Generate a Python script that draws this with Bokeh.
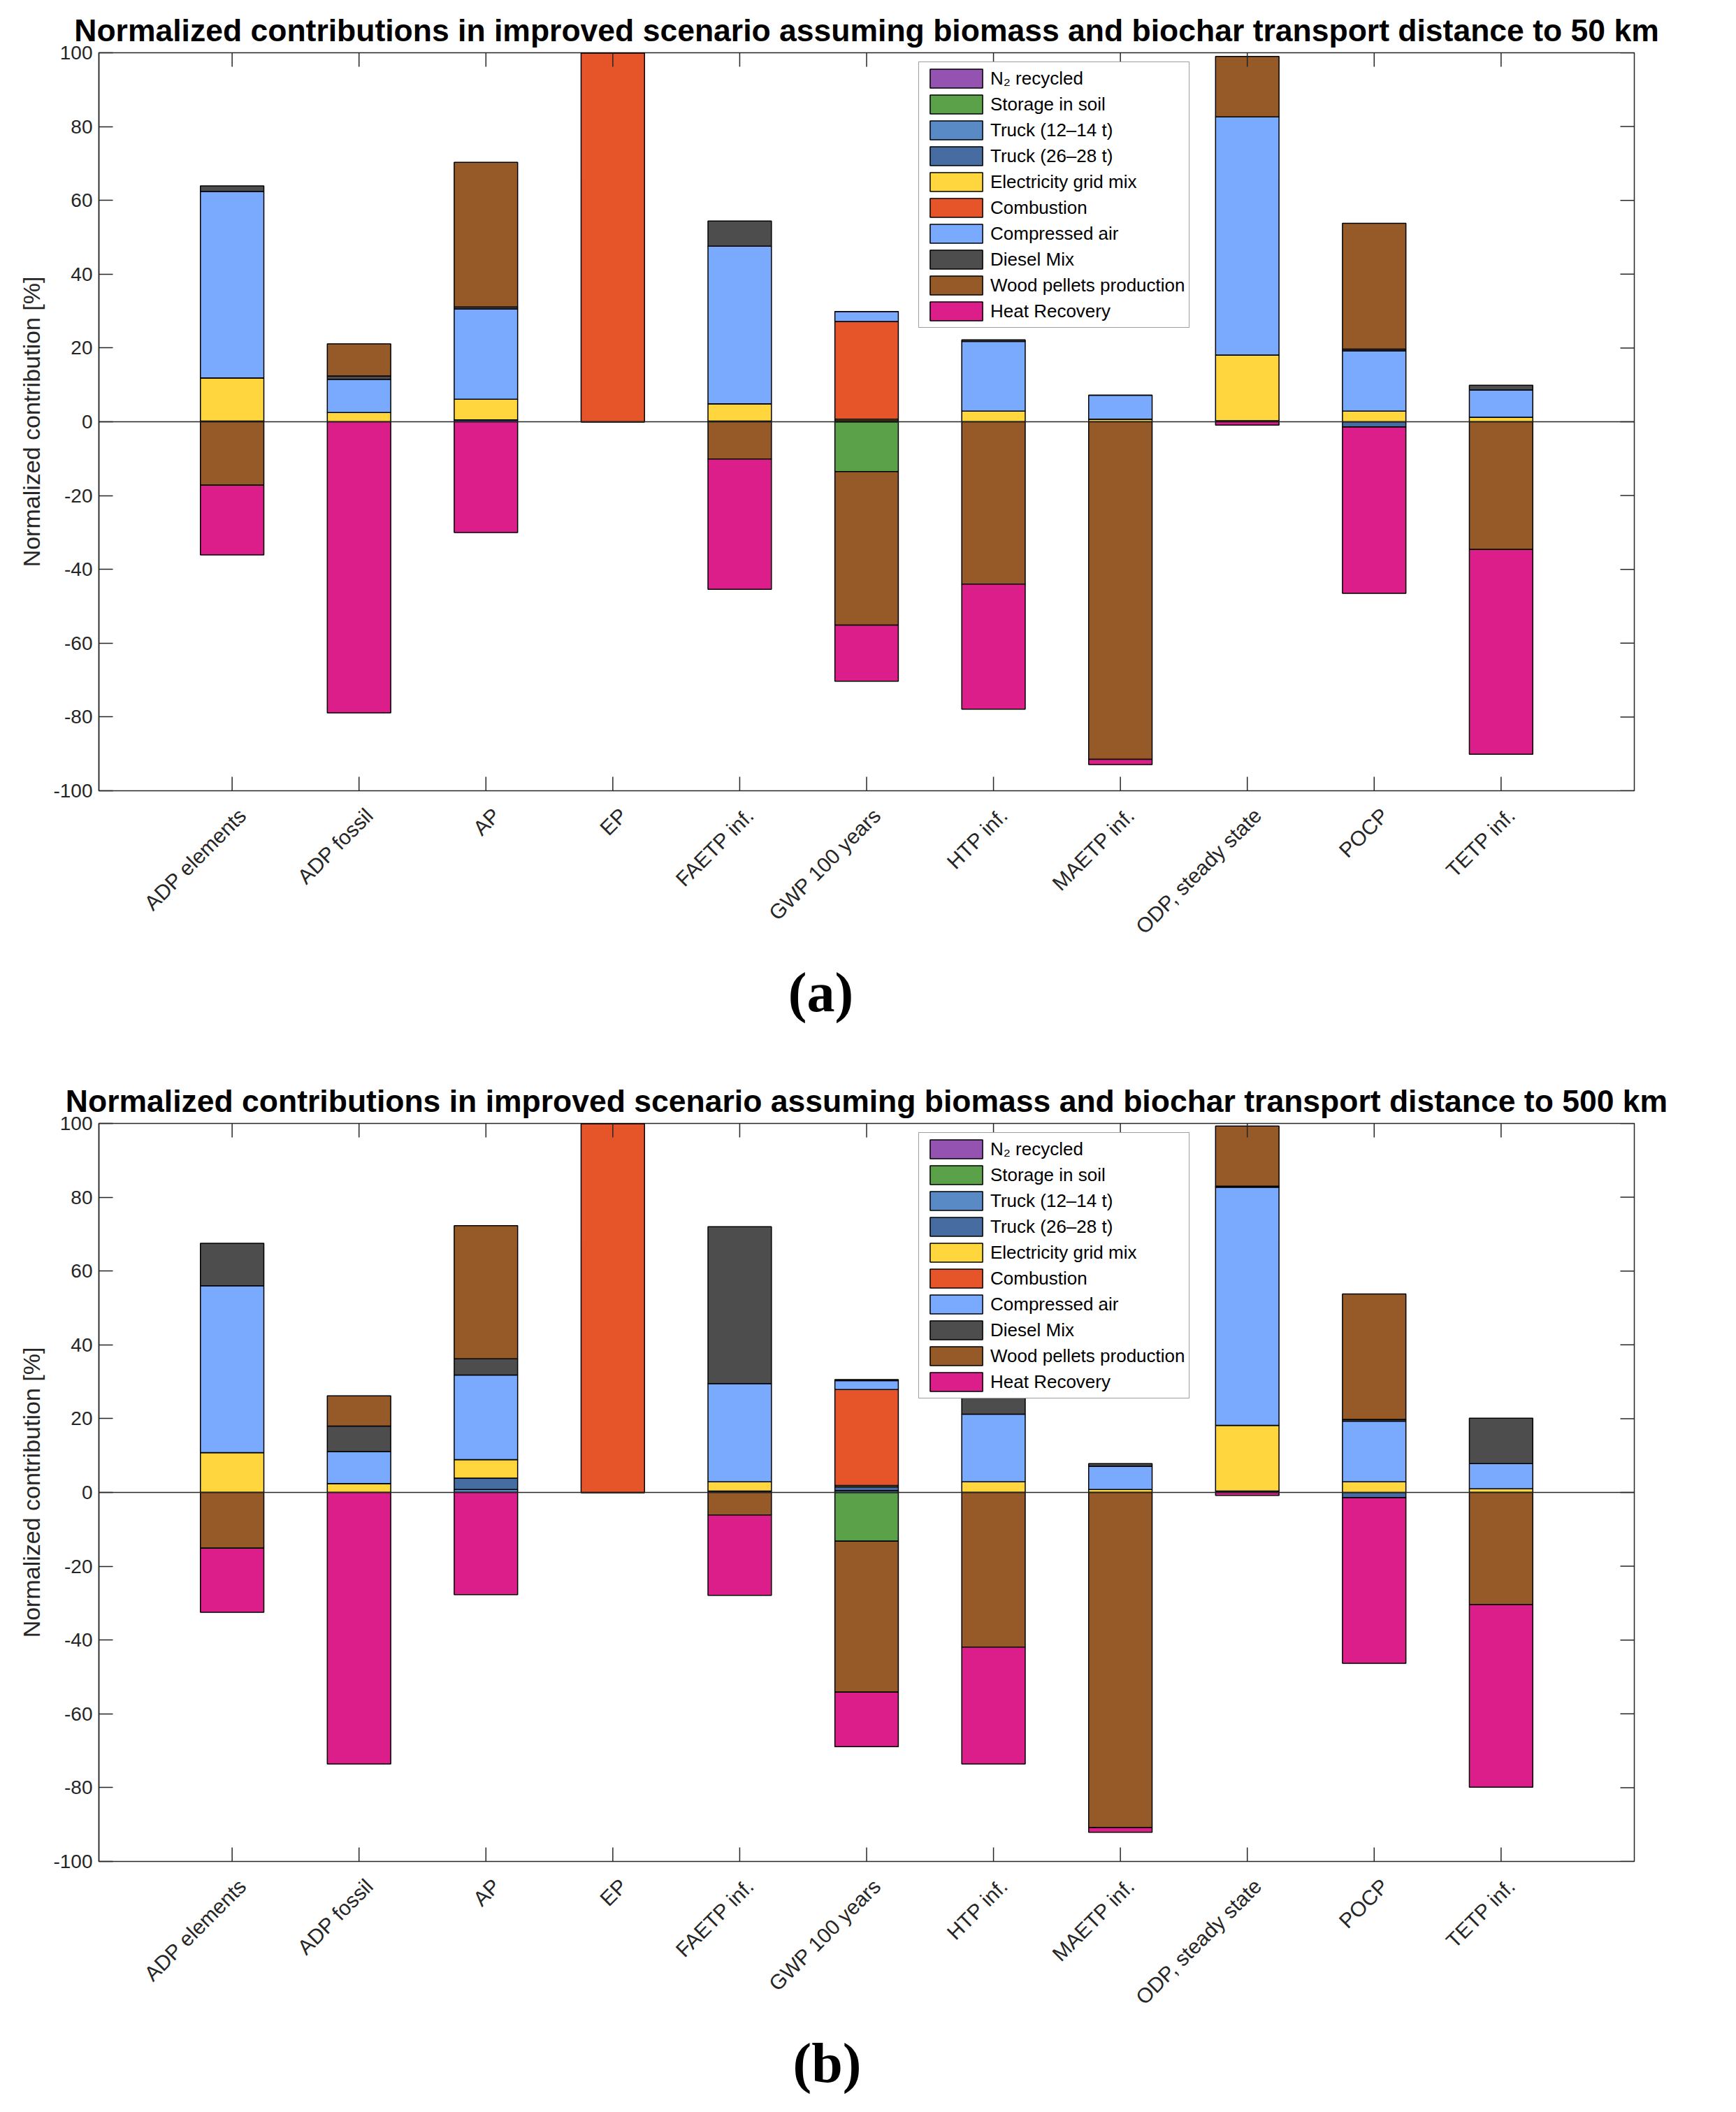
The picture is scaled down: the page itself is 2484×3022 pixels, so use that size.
import math
import numpy as np
from bokeh.plotting import figure
from bokeh.models import Range1d, FixedTicker, Span
from bokeh.core.properties import value
from bokeh.layouts import column
from bokeh.embed import file_html
from bokeh.resources import INLINE

# ---------------- data ----------------
categories = ["ADP elements", "ADP fossil", "AP", "EP", "FAETP inf.", "GWP 100 years",
              "HTP inf.", "MAETP inf.", "ODP, steady state", "POCP", "TETP inf."]

series_names = ["N\u2082 recycled", "Storage in soil", "Truck (12\u201314 t)", "Truck (26\u201328 t)",
                "Electricity grid mix", "Combustion", "Compressed air", "Diesel Mix",
                "Wood pellets production", "Heat Recovery"]

# (a) transport distance 50 km
a_n2      = [0, 0, 0, 0, 0, 0, 0, 0, 0, 0, 0]
a_soil    = [0, 0, 0, 0, 0, -13.5, 0, 0, 0, 0, 0]
a_truck12 = [0, 0, 0, 0, 0, 0, 0, 0, 0, 0, 0]
a_truck26 = [0.2, 0, 0.5, 0, 0.2, 0.3, 0, 0, 0.3, -1.4, 0]
a_elec    = [11.7, 2.5, 5.6, 0, 4.7, 0.4, 2.9, 0.7, 17.8, 2.9, 1.25]
a_comb    = [0, 0, 0, 100, 0, 26.5, 0, 0, 0, 0, 0]
a_air     = [50.5, 9.0, 24.5, 0, 42.7, 2.7, 18.9, 6.5, 64.5, 16.3, 7.35]
a_diesel  = [1.5, 0.9, 0.5, 0, 6.8, 0, 0.4, 0, 0, 0.5, 1.3]
a_wood    = [-17.2, 8.7, 39.2, 0, -10.1, -41.6, -44.0, -91.5, 16.4, 34.1, -34.6]
a_heat    = [-18.9, -78.9, -30.0, 0, -35.3, -15.2, -33.9, -1.4, -0.9, -45.1, -55.5]

# (b) transport distance 500 km
b_n2      = [0, 0, 0, 0, 0, 0, 0, 0, 0, 0, 0]
b_soil    = [0, 0, 0, 0, 0, -13.2, 0, 0, 0, 0, 0]
b_truck12 = [0, 0, 0.8, 0, 0.4, 0.5, 0, 0, 0.4, 0, 0]
b_truck26 = [0, 0, 3.1, 0, 0, 1.0, 0, 0, 0, -1.4, 0]
b_elec    = [10.8, 2.4, 5.0, 0, 2.5, 0.4, 2.9, 0.8, 17.8, 2.9, 1.0]
b_comb    = [0, 0, 0, 100, 0, 26.0, 0, 0, 0, 0, 0]
b_air     = [45.2, 8.7, 22.9, 0, 26.6, 2.4, 18.3, 6.3, 64.5, 16.4, 6.8]
b_diesel  = [11.5, 6.9, 4.4, 0, 42.5, 0.3, 4.7, 0.7, 0.3, 0.5, 12.3]
b_wood    = [-15.1, 8.2, 36.1, 0, -6.1, -40.9, -41.9, -90.8, 16.3, 34.0, -30.4]
b_heat    = [-17.4, -73.6, -27.7, 0, -21.8, -14.8, -31.7, -1.3, -0.8, -44.9, -49.5]

y_ticks = [-100, -80, -60, -40, -20, 0, 20, 40, 60, 80, 100]
y_tick_labels = ["-100", "-80", "-60", "-40", "-20", "0", "20", "40", "60", "80", "100"]

# ---------------- styles ----------------
colors = ["#9452B1", "#5BA14A", "#5A8AC6", "#466CA2", "#FFD63E",
          "#E6542A", "#7AAAFD", "#4D4D4D", "#955A28", "#DB1E8A"]
AX = "#262626"
FONT = "Liberation Sans"
X_LO, X_HI = -0.05, 12.05
Y_LO, Y_HI = -100, 100
FRAME_H = 1056
BOTTOM = 18


def make_panel(title, series, top_border):
    height = top_border + FRAME_H + BOTTOM
    p = figure(width=2484, height=height,
               x_range=Range1d(X_LO, X_HI), y_range=Range1d(Y_LO, Y_HI),
               output_backend="svg", toolbar_location=None,
               min_border_left=141, min_border_right=146,
               min_border_top=top_border, min_border_bottom=BOTTOM,
               title=title)
    p.background_fill_color = "white"
    p.border_fill_color = "white"
    p.xgrid.visible = False
    p.ygrid.visible = False
    p.outline_line_color = AX
    p.outline_line_width = 1.5

    p.title.text_font = FONT
    p.title.text_font_size = "44.5px"
    p.title.text_font_style = "bold"
    p.title.text_color = "black"
    p.title.align = "center"
    p.title.standoff = 16

    x = np.arange(1, len(categories) + 1)
    pos_base = np.zeros(len(categories))
    neg_base = np.zeros(len(categories))
    for name, vals, col in zip(series_names, series, colors):
        v = np.array(vals, dtype=float)
        bottom = np.where(v >= 0, pos_base, neg_base)
        top = bottom + v
        pos_base = np.where(v >= 0, top, pos_base)
        neg_base = np.where(v < 0, top, neg_base)
        p.vbar(x=x, bottom=bottom, top=top, width=0.5, fill_color=col,
               line_color="black", line_width=1.5, legend_label=name)

    p.add_layout(Span(location=0, dimension="width", line_color=AX, line_width=1.5))

    # inward ticks on all four edges (MATLAB box style)
    tick_x = list(range(1, len(categories) + 1))
    p.ray(x=tick_x, y=Y_HI, length=20, length_units="screen",
          angle=-math.pi / 2, line_color=AX, line_width=1.5)
    p.ray(x=tick_x, y=Y_LO, length=20, length_units="screen",
          angle=math.pi / 2, line_color=AX, line_width=1.5)
    p.ray(x=X_HI, y=y_ticks, length=20, length_units="screen",
          angle=math.pi, line_color=AX, line_width=1.5)

    p.xaxis.visible = False

    ya = p.yaxis[0]
    ya.ticker = FixedTicker(ticks=y_ticks)
    ya.major_label_overrides = dict(zip(y_ticks, y_tick_labels))
    ya.major_label_text_font = FONT
    ya.major_label_text_font_size = "28px"
    ya.major_label_text_color = AX
    ya.major_label_standoff = 9
    ya.axis_label = "Normalized contribution [%]"
    ya.axis_label_text_font = FONT
    ya.axis_label_text_font_size = "34px"
    ya.axis_label_text_font_style = "normal"
    ya.axis_label_text_color = AX
    ya.axis_label_standoff = 9
    ya.major_tick_in = 20
    ya.major_tick_out = 0
    ya.minor_tick_line_color = None
    ya.axis_line_color = AX
    ya.axis_line_width = 1.5
    ya.major_tick_line_color = AX
    ya.major_tick_line_width = 1.5

    lg = p.legend[0]
    lg.location = (1173, 662)
    lg.glyph_width = 94
    lg.glyph_height = 34
    lg.label_height = 30
    lg.spacing = 3
    lg.padding = 6
    lg.margin = 0
    lg.label_standoff = 2
    lg.label_text_font = FONT
    lg.label_text_font_size = "26px"
    lg.label_text_color = "black"
    lg.border_line_color = "#404040"
    lg.border_line_width = 1.5
    lg.background_fill_alpha = 1.0
    return p


def make_label_strip(x_range, tag, tag_dx, height):
    # strip under the plot frame holding the rotated category names and the panel tag;
    # its y axis runs in pixels measured downward from the strip's top edge
    s = figure(width=2484, height=height, x_range=x_range, y_range=Range1d(height, 0),
               output_backend="svg", toolbar_location=None,
               min_border_left=141, min_border_right=146,
               min_border_top=0, min_border_bottom=0)
    s.axis.visible = False
    s.xgrid.visible = False
    s.ygrid.visible = False
    s.outline_line_color = None
    s.background_fill_color = "white"
    s.border_fill_color = "white"
    tick_x = list(range(1, len(categories) + 1))
    s.text(x=tick_x, y=30 - BOTTOM, text=categories, angle=math.pi / 4,
           text_align="right", text_baseline="middle", x_offset=15,
           text_font=value(FONT), text_font_size=value("30px"), text_color=AX)
    s.text(x=X_LO, y=288 - BOTTOM, text=[tag], x_offset=tag_dx,
           text_align="center", text_baseline="middle",
           text_font=value("Liberation Serif"), text_font_size=value("80px"),
           text_font_style="bold", text_color="black")
    return s


series_a = [a_n2, a_soil, a_truck12, a_truck26, a_elec, a_comb, a_air, a_diesel, a_wood, a_heat]
series_b = [b_n2, b_soil, b_truck12, b_truck26, b_elec, b_comb, b_air, b_diesel, b_wood, b_heat]

pa = make_panel("Normalized contributions in improved scenario assuming biomass and biochar transport distance to 50 km",
                series_a, 75)
sa = make_label_strip(pa.x_range, "(a)", 1033, 1540 - (75 + FRAME_H + BOTTOM))
pb = make_panel("Normalized contributions in improved scenario assuming biomass and biochar transport distance to 500 km",
                series_b, 67)
sb = make_label_strip(pb.x_range, "(b)", 1042, 1482 - (67 + FRAME_H + BOTTOM))

layout = column(pa, sa, pb, sb)
open("out.html", "w").write(file_html(layout, INLINE))
